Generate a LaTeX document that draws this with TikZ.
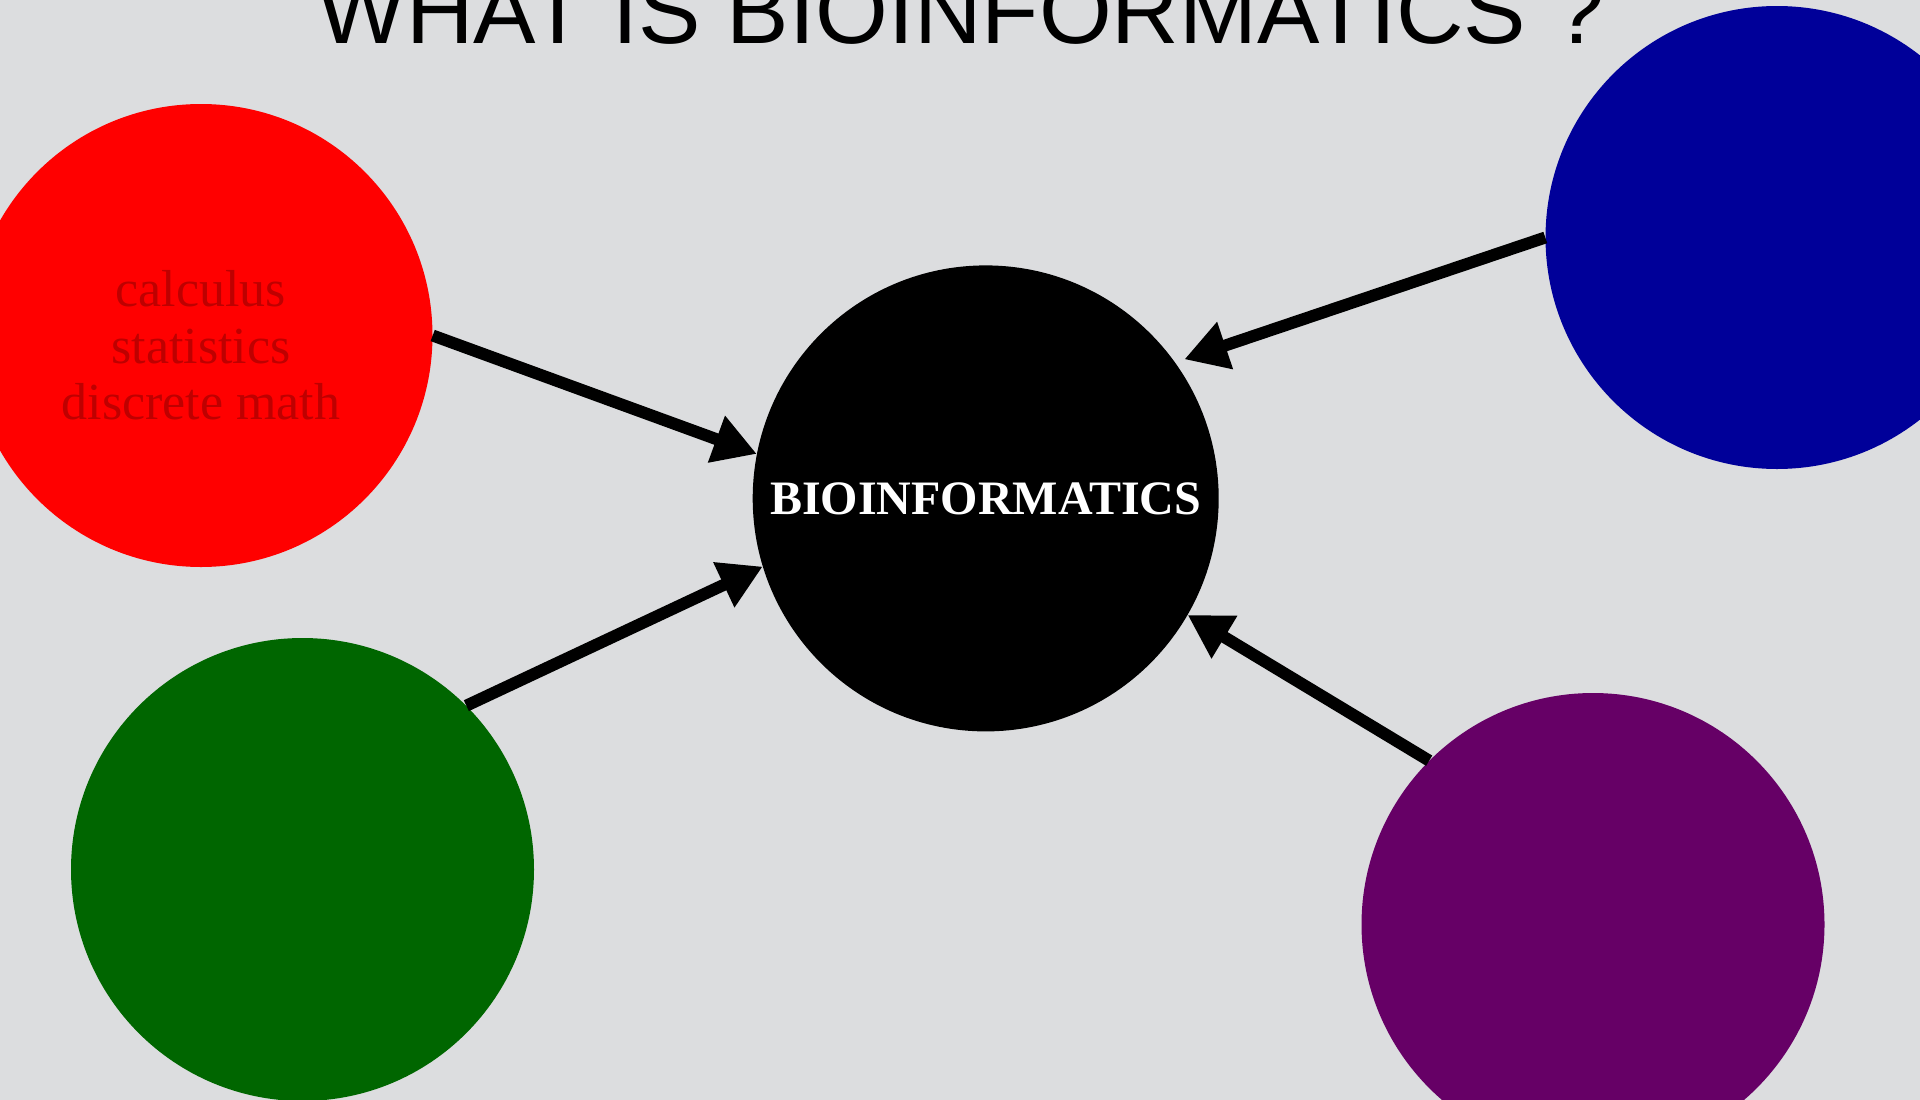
\documentclass[tikz,border=0pt]{standalone}
\usepackage{fontspec}
\setmainfont{Liberation Serif}
\newfontfamily\headfont{Liberation Sans}
\usetikzlibrary{arrows.meta,calc}

\definecolor{bg}{HTML}{DCDDDF}
\definecolor{mathred}{HTML}{FF0000}
\definecolor{mathtext}{HTML}{BE0000}
\definecolor{deepblue}{HTML}{000099}
\definecolor{deepgreen}{HTML}{006600}
\definecolor{deeppurple}{HTML}{660066}

\tikzset{
  bubble/.style={circle, draw=none, inner sep=0pt, minimum size=463pt},
  conn/.style={line width=12pt,
    -{Triangle[length=43pt,width=47pt]}},
}

\begin{document}
\begin{tikzpicture}[x=1pt,y=-1pt]
  % canvas
  \useasboundingbox (0,0) rectangle (1920,1100);
  \fill[bg] (0,0) rectangle (1920,1100);
  \clip (0,0) rectangle (1920,1100);

  % heading
  \node[anchor=base, inner sep=0pt, font=\headfont\fontsize{93.6}{93.6}\selectfont]
    (title) at (961,43.5) {WHAT IS BIOINFORMATICS ?};

  % surrounding disciplines
  \node[bubble, fill=mathred] (redball) at (201,335.5) {};
  \node[align=center, text=mathtext, inner sep=0pt,
        font=\fontsize{52}{56.5}\selectfont] (mathlist) at (201,345.5)
    {calculus\\statistics\\discrete math};
  \node[bubble, fill=deepgreen] (greenball) at (302.5,869.5) {};
  \node[bubble, fill=deepblue] (blueball) at (1777,237.5) {};
  \node[bubble, fill=deeppurple] (purpleball) at (1593,924.5) {};

  % central topic
  \node[bubble, fill=black, minimum size=466pt, text=white,
        font=\bfseries\fontsize{48}{48}\selectfont] (core) at (985.7,498.4)
    {BIOINFORMATICS};

  % links into the centre
  \draw[conn] (redball.0) -- (core.169.5);
  \draw[conn] (greenball.45) -- (core.197.1);
  \draw[conn] (blueball.180) -- ($(core.center)!1.04!(core.35.5)$);
  \draw[conn] (purpleball.135) -- (core.330.3);
\end{tikzpicture}
\end{document}
